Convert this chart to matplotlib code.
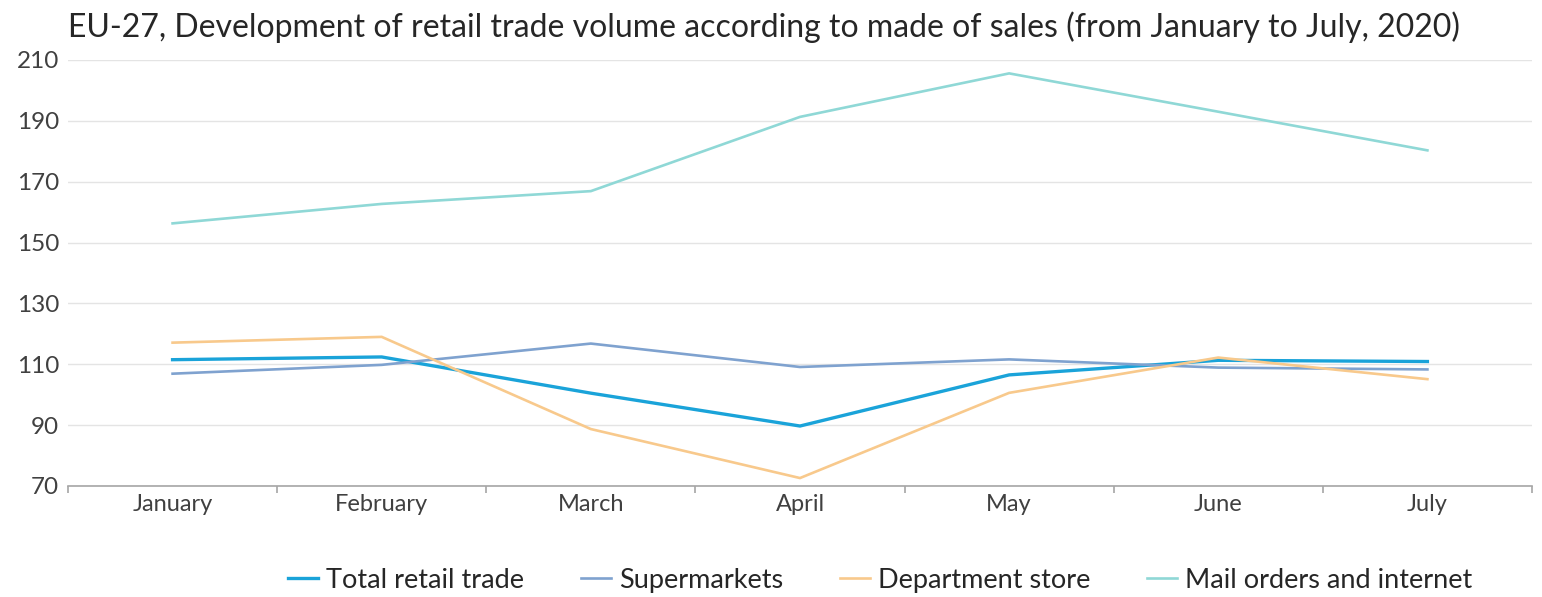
import matplotlib
matplotlib.use("Agg")
import matplotlib.pyplot as plt
import numpy as np

months = ["January", "February", "March", "April", "May", "June", "July"]
total_retail = [111.5, 112.4, 100.5, 89.7, 106.5, 111.3, 110.9]
supermarkets = [106.9, 109.8, 116.8, 109.1, 111.6, 108.9, 108.3]
department_store = [117.1, 119.0, 88.7, 72.6, 100.6, 112.2, 105.1]
mail_orders = [156.3, 162.7, 166.9, 191.3, 205.6, 193.0, 180.3]

series_names = ["Total retail trade", "Supermarkets", "Department store", "Mail orders and internet"]
series_values = [total_retail, supermarkets, department_store, mail_orders]
colors = ["#1AA3D9", "#7FA2CF", "#F8C98C", "#8FD8D6"]
widths = [2.4, 1.9, 1.9, 1.9]

plt.rcParams['font.family'] = ['Lato', 'DejaVu Sans']

fig = plt.figure(figsize=(15.42, 5.97), dpi=100)
ax = fig.add_axes([0.0441, 0.186, 0.9494, 0.7135])

x = np.arange(len(months))
for name, vals, c, w in zip(series_names, series_values, colors, widths):
    ax.plot(x, vals, color=c, linewidth=w, label=name, solid_joinstyle='miter')

ax.set_xlim(-0.5, len(months) - 0.5)
ax.set_ylim(70, 210)
ax.set_yticks(np.arange(70, 211, 20))
ax.set_xticks(x)
ax.set_xticklabels(months)
ax.set_xticks(np.arange(-0.5, len(months), 1.0), minor=True)

ax.grid(axis='y', color='#E4E4E4', linewidth=1.0)
ax.set_axisbelow(True)
for s in ['top', 'right', 'left']:
    ax.spines[s].set_visible(False)
ax.spines['bottom'].set_color('#A6A6A6')
ax.spines['bottom'].set_linewidth(1.2)

ax.tick_params(axis='y', length=0, labelsize=17.5, labelcolor='#404040', pad=6.5)
ax.tick_params(axis='x', which='major', length=0, labelsize=17, labelcolor='#404040', pad=6)
ax.tick_params(axis='x', which='minor', length=5, color='#A6A6A6', width=1.2)

fig.text(0.044, 0.955, "EU-27, Development of retail trade volume according to made of sales (from January to July, 2020)",
         fontsize=23, color='#262626', ha='left', va='center')

fig.legend(loc='center', bbox_to_anchor=(0.571, 0.028), ncol=4, frameon=False,
           fontsize=19.5, handlelength=1.1, handletextpad=0.3, columnspacing=2.1,
           labelcolor='#262626')

fig.savefig("out.png", dpi=100)
